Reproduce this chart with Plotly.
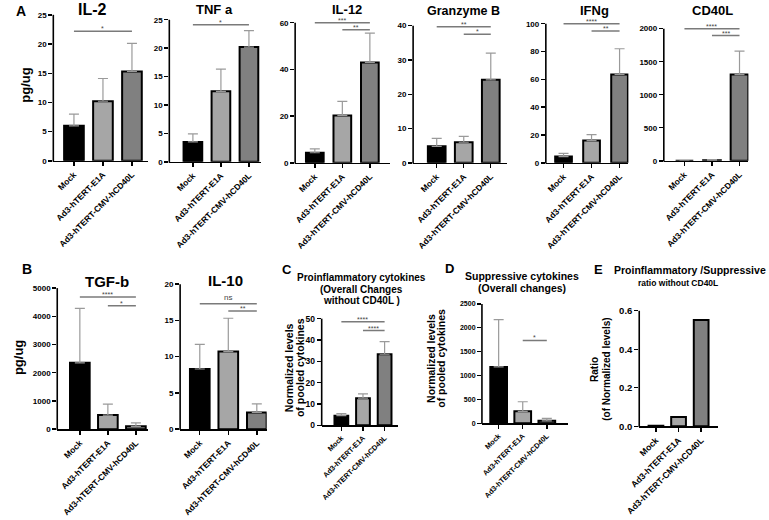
import plotly.graph_objects as go

W, H = 769, 520
FONT = "Liberation Sans"

categories = ["Mock", "Ad3-hTERT-E1A", "Ad3-hTERT-CMV-hCD40L"]
bar_colors = ["#000000", "#a6a6a6", "#808080"]

il2_mean = [6.0, 10.2, 15.3]
il2_err = [2.0, 3.9, 4.8]
tnf_mean = [3.5, 12.4, 20.2]
tnf_err = [1.4, 3.9, 2.9]
il12_mean = [4.3, 20.3, 43.0]
il12_err = [1.7, 6.0, 12.5]
gzmb_mean = [4.8, 6.0, 24.2]
gzmb_err = [2.3, 1.7, 7.8]
ifng_mean = [4.5, 16.0, 63.5]
ifng_err = [2.3, 4.3, 18.5]
cd40l_mean = [0.0, 8.0, 1305.0]
cd40l_err = [0.0, 10.0, 355.0]
tgfb_mean = [2350.0, 500.0, 100.0]
tgfb_err = [1930.0, 390.0, 120.0]
il10_mean = [8.3, 10.7, 2.3]
il10_err = [3.4, 4.6, 1.2]
pro_mean = [4.5, 12.7, 33.3]
pro_err = [1.0, 2.0, 5.9]
sup_mean = [1180.0, 250.0, 50.0]
sup_err = [990.0, 200.0, 50.0]
ratio_mean = [0.003, 0.048, 0.552]

# significance brackets: (from category, to category, y value, label)
il2_sig = [(0, 2, 22.2, "*")]
tnf_sig = [(0, 2, 24.1, "*")]
il12_sig = [(0, 2, 60.0, "***"), (1, 2, 57.0, "**")]
gzmb_sig = [(0, 2, 39.7, "**"), (1, 2, 37.5, "*")]
ifng_sig = [(0, 2, 100.0, "****"), (1, 2, 94.8, "**")]
cd40l_sig = [(0, 2, 2000.0, "****"), (1, 2, 1895.0, "***")]
tgfb_sig = [(0, 2, 4685.0, "****"), (1, 2, 4370.0, "*")]
il10_sig = [(0, 2, 17.3, "ns"), (1, 2, 16.3, "**")]
pro_sig = [(0, 2, 48.6, "****"), (1, 2, 44.4, "****")]
sup_sig = [(1, 2, 1735.0, "*")]
ratio_sig = []

# panel geometry (pixels): left axis, first bar center, last bar center, right end,
# zero line y, top tick y, bar width px, tick font sizes
panels = [
    dict(m=il2_mean, e=il2_err, s=il2_sig, ymax=25, dt=5, L=41, c0=62, c2=121, R=137, yb=161, yt=13, bw=20, tf=8.5, yf=8),
    dict(m=tnf_mean, e=tnf_err, s=tnf_sig, ymax=25, dt=5, L=159, c0=183, c2=240, R=252, yb=162, yt=18, bw=19, tf=8.5, yf=8),
    dict(m=il12_mean, e=il12_err, s=il12_sig, ymax=60, dt=20, L=287, c0=307, c2=363, R=383, yb=163, yt=21, bw=18, tf=8.5, yf=8),
    dict(m=gzmb_mean, e=gzmb_err, s=gzmb_sig, ymax=40, dt=10, L=407, c0=431, c2=486, R=503, yb=163, yt=24, bw=18, tf=8.5, yf=8),
    dict(m=ifng_mean, e=ifng_err, s=ifng_sig, ymax=100, dt=20, L=542, c0=560, c2=617, R=626, yb=163, yt=22, bw=17, tf=8.5, yf=8),
    dict(m=cd40l_mean, e=cd40l_err, s=cd40l_sig, ymax=2000, dt=500, L=662, c0=683, c2=739, R=748, yb=161, yt=27, bw=18, tf=8.5, yf=8),
    dict(m=tgfb_mean, e=tgfb_err, s=tgfb_sig, ymax=5000, dt=1000, L=45, c0=68, c2=125, R=137, yb=433, yt=290, bw=20, tf=8.5, yf=8),
    dict(m=il10_mean, e=il10_err, s=il10_sig, ymax=20, dt=5, L=170, c0=190, c2=248, R=258, yb=433, yt=286, bw=20, tf=8.5, yf=8),
    dict(m=pro_mean, e=pro_err, s=pro_sig, ymax=50, dt=10, L=314, c0=334, c2=378, R=392, yb=429, yt=321, bw=14, tf=7.3, yf=8.5),
    dict(m=sup_mean, e=sup_err, s=sup_sig, ymax=2500, dt=500, L=477, c0=494, c2=543, R=565, yb=427, yt=306, bw=17, tf=7.3, yf=7),
    dict(m=ratio_mean, e=None, s=ratio_sig, ymax=0.6, dt=0.2, L=637, c0=654, c2=700, R=717, yb=430, yt=313, bw=15, tf=8.7, yf=9.5),
]

fig = go.Figure()
shapes = []
annotations = []
PAD = 4

for k, p in enumerate(panels, start=1):
    xs = "" if k == 1 else str(k)
    xname, yname = "x" + xs, "y" + xs
    s = (p["c2"] - p["c0"]) / 2.0
    xr = [(p["L"] - p["c0"]) / s, (p["R"] - p["c0"]) / s]
    ppu = (p["yb"] - p["yt"]) / p["ymax"]
    rtop = p["ymax"] + PAD / ppu
    bar = dict(
        x=[0, 1, 2], y=p["m"], width=p["bw"] / s,
        marker=dict(color=bar_colors, line=dict(color="black", width=2)),
        xaxis=xname, yaxis=yname, showlegend=False, hoverinfo="skip",
    )
    if p["e"] is not None:
        bar["error_y"] = dict(type="data", array=p["e"], arrayminus=[0, 0, 0], symmetric=False,
                              color="#9a9a9a", thickness=1.2, width=5)
    fig.add_trace(go.Bar(**bar))
    nt = int(round(p["ymax"] / p["dt"]))
    tv = [round(i * p["dt"], 3) for i in range(nt + 1)]
    fig.layout["xaxis" + xs] = dict(
        domain=[p["L"] / W, p["R"] / W], range=xr, anchor=yname,
        tickvals=[0, 1, 2], ticktext=categories, tickangle=-45,
        showline=True, linecolor="black", linewidth=1.6,
        ticks="outside", ticklen=4, tickwidth=1.4, tickcolor="black",
        tickfont=dict(family=FONT, size=p["tf"], color="black", weight="bold"),
        showgrid=False, zeroline=False, fixedrange=True,
    )
    fig.layout["yaxis" + xs] = dict(
        domain=[1 - p["yb"] / H, 1 - (p["yt"] - PAD) / H], range=[0, rtop], anchor=xname,
        tickvals=tv, ticktext=[("%g" % v) if p["ymax"] >= 1 else "%.1f" % v for v in tv],
        showline=False, ticks="outside", ticklen=4, tickwidth=1.4, tickcolor="black",
        tickfont=dict(family=FONT, size=p["yf"], color="black", weight="bold"),
        showgrid=False, zeroline=False, fixedrange=True,
    )
    shapes.append(dict(type="line", xref="paper", yref="paper",
                       x0=p["L"] / W, x1=p["L"] / W, y0=1 - (p["yb"] + 0.8) / H, y1=1 - p["yt"] / H,
                       line=dict(color="black", width=1.6)))
    for (i, j, yv, lab) in p["s"]:
        shapes.append(dict(type="line", xref=xname, yref=yname, x0=i, x1=j, y0=yv, y1=yv,
                           line=dict(color="#7a7a7a", width=1.5)))
        annotations.append(dict(x=(i + j) / 2, y=yv, xref=xname, yref=yname, text=lab,
                                showarrow=False, yanchor="bottom", yshift=-3 if lab != "ns" else 0,
                                font=dict(family=FONT, size=7 if lab != "ns" else 8, color="#444444")))


def txt(x, y, t, size, angle=0, weight="bold"):
    annotations.append(dict(x=x / W, y=1 - y / H, xref="paper", yref="paper", text=t,
                            showarrow=False, textangle=angle, xanchor="center", yanchor="middle",
                            font=dict(family=FONT, size=size, color="black", weight=weight)))


# panel letters
txt(8, 9, "A", 14)
txt(14, 271, "B", 14)
txt(279, 271, "C", 13)
txt(444, 270, "D", 13)
txt(596, 271, "E", 13)

# titles
txt(81, 8, "IL-2", 16)
txt(205, 8, "TNF a", 13)
txt(340, 8, "IL-12", 13)
txt(458, 9, "Granzyme B", 12.5)
txt(591, 9, "IFNg", 13)
txt(712, 9, "CD40L", 13)
txt(96, 283, "TGF-b", 15)
txt(216, 282, "IL-10", 15)
txt(355, 279, "Proinflammatory cytokines", 10)
txt(355, 291, "(Overall Changes", 10)
txt(355, 303, "without CD40L )", 10)
txt(518, 278, "Suppressive cytokines", 10.5)
txt(518, 290, "(Overall changes)", 10.5)
txt(689, 272, "Proinflammatory /Suppressive", 10.5)
txt(676, 285, "ratio without CD40L", 8.5)

# y-axis titles
txt(13, 84, "pg/ug", 13, -90)
txt(5, 360, "pg/ug", 13, -90)
txt(281, 371, "Normalized levels", 10.5, -90)
txt(292, 371, "of pooled cytokines", 10.5, -90)
txt(425, 361, "Normalized levels", 10.5, -90)
txt(436, 361, "of pooled cytokines", 10.5, -90)
txt(592, 372, "Ratio", 10, -90)
txt(604, 372, "(of Normalized levels)", 10, -90)

fig.update_layout(
    width=W, height=H, margin=dict(l=0, r=0, t=0, b=0),
    paper_bgcolor="white", plot_bgcolor="white",
    shapes=shapes, annotations=annotations, bargap=0, showlegend=False,
)

fig.write_html("out.html", config={"displayModeBar": False, "staticPlot": True},
               post_script="document.body.style.margin='0';document.body.style.overflow='hidden';")
